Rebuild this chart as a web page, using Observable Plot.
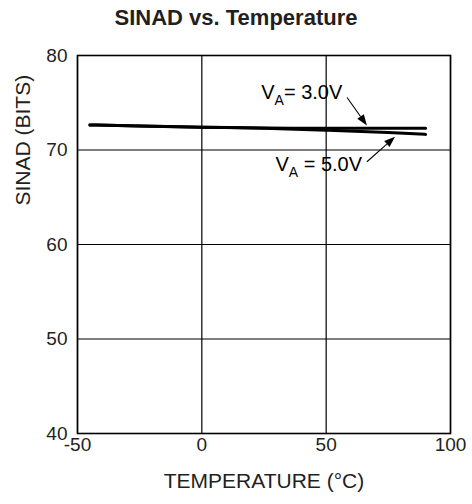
<!DOCTYPE html>
<html>
<head>
<meta charset="utf-8">
<script src="https://cdn.jsdelivr.net/npm/d3@7"></script>
<script src="https://cdn.jsdelivr.net/npm/@observablehq/plot@0.6"></script>
<style>
  html, body { margin: 0; padding: 0; background: #fff; }
  body { width: 472px; font-family: "Liberation Sans", Arial, sans-serif; }
  #title { height: 38px; line-height: 35px; text-align: center; font-weight: bold; font-size: 22px; color: #231f20; }
</style>
</head>
<body>
<div id="title">SINAD vs. Temperature</div>
<div id="chart"></div>
<script>
// Data
const temperature = [-45, -25, 0, 25, 50, 75, 90];
const sinad3V = [72.65, 72.55, 72.42, 72.33, 72.3, 72.3, 72.3];
const sinad5V = [72.65, 72.55, 72.42, 72.3, 72.1, 71.85, 71.65];
const seriesNames = ["3.0V", "5.0V"];

const xTicks = [-50, 0, 50, 100];
const yTicks = [40, 50, 60, 70, 80];
const xLabel = "TEMPERATURE (°C)";
const yLabel = "SINAD (BITS)";

// Annotations (data coordinates)
const annoMain = ["V", "V"];
const annoSub = ["A", "A"];
const annoRest = ["= 3.0V", " = 5.0V"];
const annoX = [56.5, 29.6];
const annoY = [76.1, 68.45];
const annoAnchor = ["end", "start"];
const arrowX1 = [58.6, 66.6];
const arrowY1 = [75.5, 68.7];
const arrowX2 = [66.6, 77.9];
const arrowY2 = [72.55, 71.35];

const rows = [];
temperature.forEach((t, i) => {
  rows.push({series: seriesNames[0], t, v: sinad3V[i]});
  rows.push({series: seriesNames[1], t, v: sinad5V[i]});
});
const annos = annoMain.map((m, i) => ({
  text: m + annoSub[i] + annoRest[i], main: m, sub: annoSub[i], rest: annoRest[i],
  x: annoX[i], y: annoY[i], anchor: annoAnchor[i]
}));
const arrows = arrowX1.map((x1, i) => ({x1, y1: arrowY1[i], x2: arrowX2[i], y2: arrowY2[i]}));

function arrowMark(data) {
  return (index, scales) => {
    const g = d3.create("svg:g");
    for (const d of data) {
      const x1 = scales.x(d.x1), y1 = scales.y(d.y1), x2 = scales.x(d.x2), y2 = scales.y(d.y2);
      const a = Math.atan2(y2 - y1, x2 - x1);
      const L = 11, W = 4;
      const bx = x2 - L * Math.cos(a), by = y2 - L * Math.sin(a);
      g.append("line").attr("x1", x1).attr("y1", y1).attr("x2", bx).attr("y2", by)
        .attr("stroke", "#000").attr("stroke-width", 1.1);
      const px = -Math.sin(a) * W, py = Math.cos(a) * W;
      g.append("polygon")
        .attr("points", `${x2},${y2} ${bx + px},${by + py} ${bx - px},${by - py}`)
        .attr("fill", "#000");
    }
    return g.node();
  };
}

const chart = Plot.plot({
  width: 472,
  height: 466,
  marginTop: 17,
  marginBottom: 71,
  marginLeft: 77,
  marginRight: 22,
  style: {fontFamily: "'Liberation Sans', Arial, sans-serif", fontSize: "19px", color: "#231f20", background: "#fff"},
  x: {domain: [-50, 100], ticks: xTicks, tickSize: 0, tickPadding: 4, tickFormat: (d) => String(d), label: null},
  y: {domain: [40, 80], ticks: yTicks, tickSize: 0, tickPadding: 10, tickFormat: (d) => String(d), label: null},
  marks: [
    Plot.gridX(xTicks, {stroke: "#000", strokeOpacity: 1, strokeWidth: 1.2}),
    Plot.gridY(yTicks, {stroke: "#000", strokeOpacity: 1, strokeWidth: 1.2}),
    Plot.frame({stroke: "#000", strokeWidth: 1.6}),
    Plot.line(rows, {x: "t", y: "v", z: "series", stroke: "#000", strokeWidth: 3, curve: "monotone-x"}),
    arrowMark(arrows),
    Plot.text(annos.filter(d => d.anchor === "end"), {x: "x", y: "y", text: "text", textAnchor: "end", fontSize: 20, fill: "#000"}),
    Plot.text(annos.filter(d => d.anchor === "start"), {x: "x", y: "y", text: "text", textAnchor: "start", fontSize: 20, fill: "#000"}),
    Plot.text([xLabel], {frameAnchor: "bottom", dy: 54, fontSize: 21, fill: "#231f20"}),
    Plot.text([yLabel], {frameAnchor: "left", rotate: -90, dx: -54, dy: -39, fontSize: 21, fill: "#231f20"})
  ]
});

// Rebuild annotation texts with a subscript
d3.select(chart).selectAll("text").each(function () {
  const el = d3.select(this);
  const a = annos.find(d => d.text === el.text());
  if (!a) return;
  el.text(null);
  el.append("tspan").text(a.main);
  el.append("tspan").attr("font-size", 14).attr("dy", 6).text(a.sub);
  el.append("tspan").attr("dy", -6).text(a.rest);
});

document.getElementById("chart").appendChild(chart);
</script>
</body>
</html>
